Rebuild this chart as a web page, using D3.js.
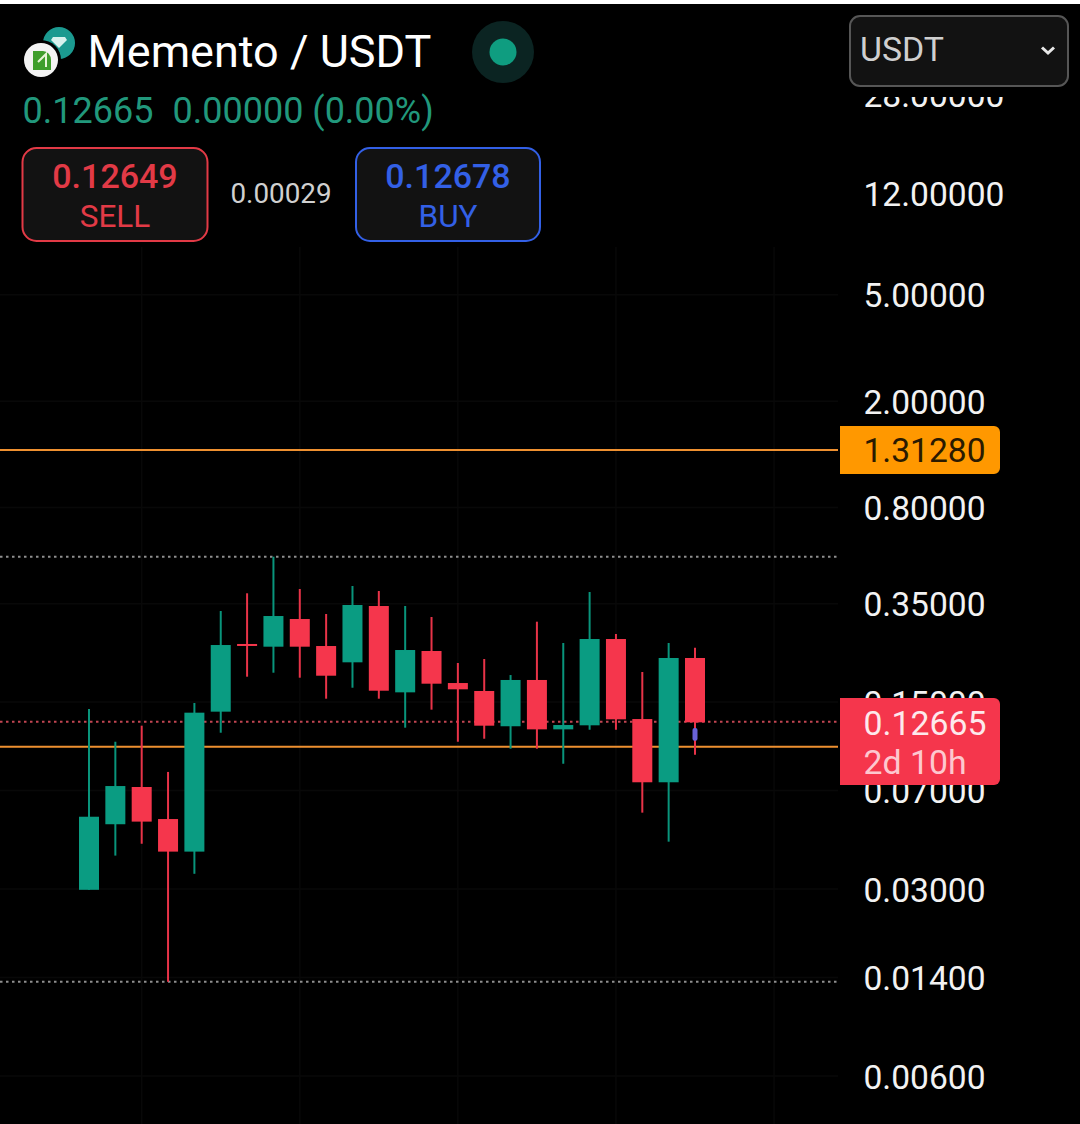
<!DOCTYPE html>
<html><head><meta charset="utf-8">
<style>html,body{margin:0;background:#000;overflow:hidden}svg{display:block}text{font-family:Roboto,sans-serif}</style>
<script src="https://cdn.jsdelivr.net/npm/d3@7"></script></head><body>
<script>
const opens =[.0298,.0524,.0722,.0548,.0414,.1381,.2473,.2416,.3066,.2430,.2112,.3429,.1631,.2328,.1767,.1650,.1218,.1814,.1186,.1228,.2581,.1296,.0752,.2192];
const highs =[.1413,.1066,.1224,.0822,.1488,.3285,.3826,.5242,.3970,.3201,.4074,.3902,.3429,.3120,.2100,.2173,.1893,.2996,.2494,.3869,.2695,.1943,.2494,.2395];
const lows  =[.0298,.0400,.0443,.0135,.0342,.1152,.1866,.1931,.1850,.1544,.1697,.1544,.1203,.1405,.1066,.1094,.1004,.1004,.0882,.1182,.1182,.0579,.0451,.0953];
const closes=[.0559,.0728,.0536,.0414,.1369,.2451,.2441,.3146,.2416,.1882,.3459,.1654,.2348,.1757,.1674,.1224,.1814,.1186,.1231,.2581,.1293,.0752,.2192,.1260];
const tickValues=[28,12,5,2,0.8,0.35,0.15,0.07,0.03,0.014,0.006];
const lastPrice=0.12665, sessionHigh=0.5242, sessionLow=0.0135;
const orangeLevels=[1.3128,0.102];
const gridIndex=[2,8,14,20,26];
const markerRange=[0.1201,0.1074];

const GREEN="#0a9c82",RED="#f5364c",ORANGE="#ee9030",AMBER="#ff9800";
const chartRight=838;
const svg=d3.select("body").append("svg").attr("width",1080).attr("height",1124);
const x=d3.scaleLinear().domain([0,23]).range([89,695]);
const y=d3.scaleLog().domain([0.006,12]).range([1076,193]);
const bodyW=20;

// faint grid
const grid=svg.append("g").attr("stroke","#080808").attr("stroke-width",1.5);
grid.selectAll(".v").data(gridIndex).join("line").attr("x1",d=>x(d)).attr("x2",d=>x(d)).attr("y1",97).attr("y2",1124);
grid.selectAll(".h").data(tickValues).join("line").attr("x1",0).attr("x2",chartRight).attr("y1",d=>y(d)).attr("y2",d=>y(d));

// axis labels
const axis=d3.axisRight(y).tickValues(tickValues).tickSize(0).tickPadding(0).tickFormat(d3.format(".5f"));
const axG=svg.append("g").attr("transform","translate(863.5,0.5)").call(axis);
axG.select(".domain").remove();
axG.selectAll("text").attr("x",0).attr("dy","0.35em").attr("fill","#f2f2f2").attr("font-size",33.6).attr("font-family","Roboto");

// dotted levels
const dotted=[[sessionHigh,"#8f8f8f"],[sessionLow,"#8f8f8f"],[lastPrice,"#c24552"]];
svg.append("g").selectAll("line").data(dotted).join("line")
  .attr("x1",0).attr("x2",chartRight).attr("y1",d=>y(d[0])).attr("y2",d=>y(d[0]))
  .attr("stroke",d=>d[1]).attr("stroke-width",2).attr("stroke-dasharray","2.5 3.5");

// candles
const idx=d3.range(opens.length);
const col=i=>closes[i]>opens[i]?GREEN:RED;
const c=svg.append("g");
c.selectAll("line").data(idx).join("line")
  .attr("x1",x).attr("x2",x).attr("y1",i=>y(highs[i])).attr("y2",i=>y(lows[i]))
  .attr("stroke",i=>d3.color(col(i)).darker(0.15)).attr("stroke-width",2);

// orange levels sit above the wicks but below bodies
svg.append("g").selectAll("line").data(orangeLevels).join("line")
  .attr("x1",0).attr("x2",chartRight).attr("y1",d=>y(d)).attr("y2",d=>y(d))
  .attr("stroke",ORANGE).attr("stroke-width",2);

c.raise();
c.selectAll("rect").data(idx).join("rect")
  .attr("x",i=>x(i)-bodyW/2).attr("width",bodyW)
  .attr("y",i=>y(Math.max(opens[i],closes[i])))
  .attr("height",i=>Math.max(2,y(Math.min(opens[i],closes[i]))-y(Math.max(opens[i],closes[i]))))
  .attr("fill",col);

// small marker on the last candle
svg.append("rect").attr("x",x(23)-2.5).attr("width",5).attr("rx",2)
  .attr("y",y(markerRange[0])).attr("height",y(markerRange[1])-y(markerRange[0])).attr("fill","#6a62d8");

// price tags
function tag(y0,h,fill){
  svg.append("path").attr("fill",fill).attr("d",`M840,${y0}H994a6,6 0 0 1 6,6V${y0+h-6}a6,6 0 0 1 -6,6H840Z`);
}
tag(y(orangeLevels[0])-24,48,AMBER);
svg.append("text").attr("x",863.5).attr("y",y(orangeLevels[0])+0.5).attr("dy","0.35em").attr("font-size",33.6).attr("fill","#2a1a00").text("1.31280");
tag(698,87,RED);
svg.append("text").attr("x",863.5).attr("y",734.5).attr("font-size",33.8).attr("fill","#fde9ec").text(d3.format(".5f")(lastPrice));
svg.append("text").attr("x",863.5).attr("y",773.5).attr("font-size",33.8).attr("fill","#fdc8cf").text("2d 10h");

// header panel
svg.append("rect").attr("width",1080).attr("height",97).attr("fill","#000");
svg.append("rect").attr("width",1080).attr("height",4).attr("fill","#fff");
svg.append("rect").attr("x",0).attr("y",97).attr("width",840).attr("height",150).attr("fill","#000");

// logos
svg.append("circle").attr("cx",59).attr("cy",43).attr("r",16).attr("fill","#1b9a90");
svg.append("path").attr("d","M53,37h12l2,3-8,8-8,-8z").attr("fill","#d8f2ee");
svg.append("circle").attr("cx",41).attr("cy",60).attr("r",20).attr("fill","#000");
svg.append("circle").attr("cx",41).attr("cy",60).attr("r",17).attr("fill","#f3f3f3");
svg.append("path").attr("d","M33,51h10a8,9 0 0 1 8,9v10h-18z").attr("fill","#3f9e2c");
svg.append("path").attr("d","M38,62l8,-8v13").attr("fill","none").attr("stroke","#e8f5d8").attr("stroke-width",2);

svg.append("text").attr("x",87.5).attr("y",67).attr("font-size",45).attr("fill","#fff").text("Memento / USDT");
svg.append("circle").attr("cx",503).attr("cy",52).attr("r",31).attr("fill","#0b2422");
svg.append("circle").attr("cx",503).attr("cy",52).attr("r",13.5).attr("fill","#0f9d80");

const gt="#21987c";
svg.append("text").attr("x",22.5).attr("y",123).attr("font-size",36).attr("fill",gt).text("0.12665");
svg.append("text").attr("x",172.5).attr("y",123).attr("font-size",36).attr("fill",gt).text("0.00000 (0.00%)");

function btn(x0,w,stroke,val,lab){
  svg.append("rect").attr("x",x0).attr("y",148).attr("width",w).attr("height",93).attr("rx",14)
    .attr("fill","#121212").attr("stroke",stroke).attr("stroke-width",2);
  svg.append("text").attr("x",x0+w/2).attr("y",188).attr("text-anchor","middle").attr("font-size",34).attr("font-weight",500).attr("fill",stroke).text(val);
  svg.append("text").attr("x",x0+w/2).attr("y",227).attr("text-anchor","middle").attr("font-size",31.5).attr("fill",stroke).text(lab);
}
btn(22.5,185,"#e23a46","0.12649","SELL");
btn(356,184,"#3360e6","0.12678","BUY");
svg.append("text").attr("x",230.5).attr("y",203).attr("font-size",27.8).attr("fill","#d0d0d0").text("0.00029");

// selector
svg.append("rect").attr("x",850).attr("y",16).attr("width",218).attr("height",70).attr("rx",10).attr("fill","#121212").attr("stroke","#565656").attr("stroke-width",2);
svg.append("text").attr("x",860).attr("y",61).attr("font-size",33.8).attr("fill","#cfcfcf").text("USDT");
svg.append("path").attr("d","M1042,47.5l6,5.5l6,-5.5").attr("fill","none").attr("stroke","#e8e8e8").attr("stroke-width",3);
</script></body></html>
